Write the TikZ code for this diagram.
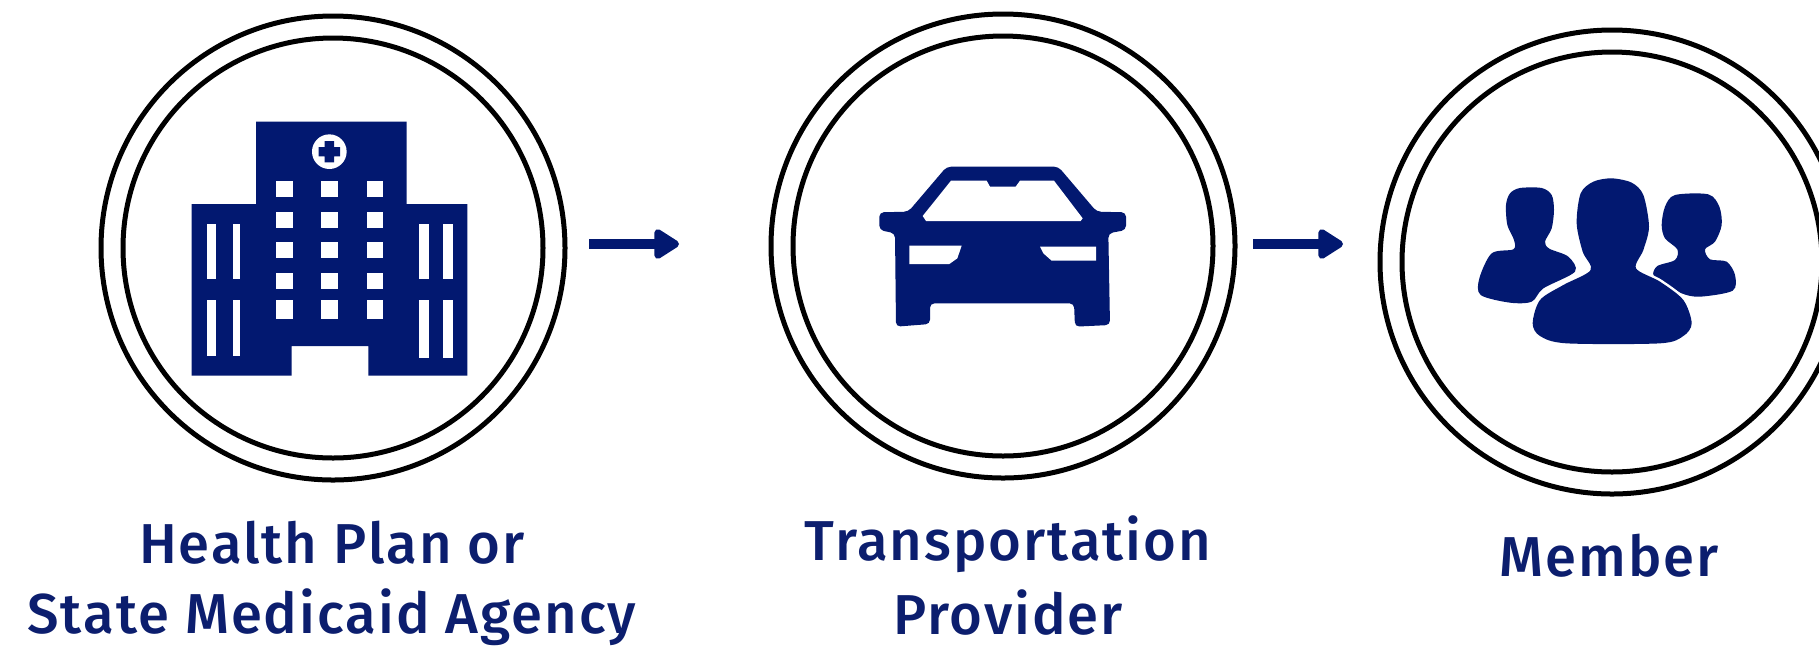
\documentclass[tikz,border=0pt]{standalone}
\usepackage{fontspec}
\setmainfont[BoldFont={Fira Sans Medium},LetterSpace=3.5]{Fira Sans}
\usetikzlibrary{arrows.meta}
\definecolor{navy}{RGB}{2,24,112}
\definecolor{textnavy}{RGB}{12,30,110}
\tikzset{
  ring/.style={circle,draw=black,line width=5*0.02cm,inner sep=0pt,fill=none},
  outerring/.style={ring,minimum size=464*0.02cm},
  innerring/.style={ring,minimum size=420*0.02cm},
  flow/.style={draw=navy,line width=9.5*0.02cm,-{Triangle[length=16pt,width=19pt,round]}},
  caption/.style={text=textnavy,font=\fontsize{32}{43}\selectfont\bfseries,align=center,inner sep=0pt,anchor=base},
  ink/.style={fill=navy,draw=none},
  hole/.style={fill=white,draw=none},
  icon/.style={shift={#1},scale=1/3}
}
\begin{document}
\begin{tikzpicture}[x=0.02cm,y=-0.02cm]
\useasboundingbox (0,0) rectangle (1819,647);
\clip (0,0) rectangle (1819,647);
\fill[white] (0,0) rectangle (1819,647);

% rings
\node[outerring] (planOuter) at (333,248) {};
\node[innerring] (planInner) at (333,248) {};
\node[outerring] (carOuter) at (1003,246) {};
\node[innerring] (carInner) at (1003,246) {};
\node[outerring] (memberOuter) at (1612,262) {};
\node[innerring] (memberInner) at (1612,262) {};

% hospital
\begin{scope}[icon={(150,90)}]
  \fill[ink] (318,95) -- (770,95) -- (770,342) -- (952,342) -- (952,857) -- (655,857) -- (655,768)
    -- (425,768) -- (425,857) -- (125,857) -- (125,342) -- (318,342) -- cycle;
  \foreach \cx in {378,514,650}
    \foreach \ya/\yb in {272/322,365/413,456/505,548/597,630/688}
      \fill[hole] (\cx,\ya) rectangle (\cx+50,\yb);
  \foreach \xa/\xb in {170/198,248/271}{
    \fill[hole] (\xa,402) rectangle (\xb,568);
    \fill[hole] (\xa,630) rectangle (\xb,798);}
  \foreach \xa/\xb in {806/836,880/910}{
    \fill[hole] (\xa,402) rectangle (\xb,568);
    \fill[hole] (\xa,630) rectangle (\xb,805);}
  \fill[hole] (538,185) circle (52);
  \fill[ink] (506,171) rectangle (570,199) (524,153) rectangle (552,217);
\end{scope}

% car
\begin{scope}[icon={(850,140)}]
  \fill[ink,rounded corners=2.5pt] (290,80) -- (625,80) -- (740,215) -- (828,217) -- (828,270) -- (775,280)
    -- (780,555) -- (675,560) -- (672,490) -- (240,490) -- (240,552) -- (138,560) -- (135,280)
    -- (88,270) -- (88,217) -- (175,215) -- cycle;
  \fill[hole] (303,122) -- (410,122) -- (420,140) -- (497,140) -- (510,122) -- (612,122)
    -- (698,235) -- (692,243) -- (228,243) -- (218,228) -- cycle;
  \fill[hole] (178,317) -- (335,317) -- (322,355) -- (298,372) -- (178,372) -- cycle;
  \fill[hole] (570,320) -- (738,320) -- (738,362) -- (605,362) -- (580,340) -- cycle;
\end{scope}

% people
\begin{scope}[icon={(1460,160)}]
  \fill[ink] plot[smooth cycle,tension=0.5] coordinates {(138,135) (150,100) (180,84) (245,84) (275,105) (282,150) (275,205) (255,245) (268,266) (325,290) (345,335) (250,385) (215,425) (150,428) (62,405) (58,355) (95,280) (160,268) (162,240) (142,195)};
  \fill[ink] plot[smooth cycle,tension=0.5] coordinates {(605,195) (615,140) (645,105) (745,103) (778,140) (785,195) (765,245) (735,268) (750,298) (800,305) (825,345) (818,392) (720,410) (665,400) (610,365) (580,345) (592,318) (645,300) (652,268) (615,235)};
  \fill[ink,preaction={draw=white,line width=5*0.02cm}] plot[smooth cycle,tension=0.5] coordinates {(350,190) (362,100) (400,65) (455,55) (515,68) (550,105) (567,200) (550,270) (528,325) (600,365) (670,420) (695,490) (670,528) (600,550) (320,550) (240,528) (218,490) (240,420) (310,375) (392,330) (368,275)};
\end{scope}

% connectors
\coordinate (flowA) at (589,244);
\coordinate (flowB) at (679,244);
\coordinate (flowC) at (1253,244);
\coordinate (flowD) at (1343,244);
\draw[flow] (flowA) -- (flowB);
\draw[flow] (flowC) -- (flowD);

% captions
\node[caption] (planLabelA) at (332,563) {Health Plan or};
\node[caption] (planLabelB) at (332,633) {State Medicaid Agency};
\node[caption] (carLabelA) at (1008,560) {Transportation};
\node[caption] (carLabelB) at (1008,634) {Provider};
\node[caption] (memberLabel) at (1609,576) {Member};
\end{tikzpicture}
\end{document}
